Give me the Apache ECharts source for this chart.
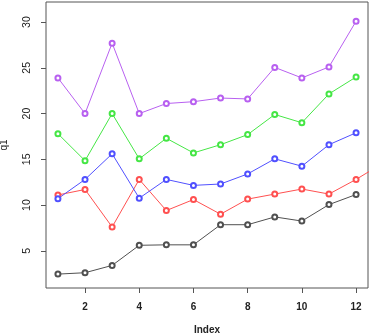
<!DOCTYPE html>
<html>
<head>
<meta charset="utf-8">
<script src="https://cdn.jsdelivr.net/npm/echarts@6/dist/echarts.min.js"></script>
<style>
  html, body { margin: 0; padding: 0; background: #fff; }
  #chart { width: 373px; height: 336px; }
</style>
</head>
<body>
<div id="chart"></div>
<script>
var xTicks = [2, 4, 6, 8, 10, 12];
var yTicks = [5, 10, 15, 20, 25, 30];
var black = [2.45, 2.6, 3.4, 5.6, 5.65, 5.65, 7.85, 7.85, 8.7, 8.25, 10.05, 11.15];
var red = [11.1, 11.7, 7.6, 12.8, 9.4, 10.6, 9.0, 10.65, 11.2, 11.75, 11.2, 12.8, 14.6];
var blue = [10.7, 12.8, 15.6, 10.75, 12.8, 12.15, 12.3, 13.4, 15.05, 14.25, 16.6, 17.9];
var green = [17.8, 14.85, 20.0, 15.05, 17.3, 15.7, 16.6, 17.7, 19.9, 19.0, 22.15, 24.0];
var purple = [23.9, 20.0, 27.7, 20.0, 21.1, 21.3, 21.7, 21.6, 25.05, 23.9, 25.1, 30.1];

var lines = [
  { values: black, color: '#505050' },
  { values: red, color: '#ff5050' },
  { values: blue, color: '#5050ff' },
  { values: green, color: '#45e645' },
  { values: purple, color: '#b860f0' }
];

function pairs(arr) {
  return arr.map(function (v, i) { return [i + 1, v]; });
}

var font = 'Liberation Sans, Arial, sans-serif';

var option = {
  animation: false,
  grid: {
    left: 46,
    right: 5,
    top: 2,
    bottom: 48,
    outerBoundsMode: 'none',
    show: true,
    borderColor: '#555',
    borderWidth: 1
  },
  xAxis: {
    type: 'value',
    min: 0.56,
    max: 12.44,
    name: 'Index',
    nameLocation: 'middle',
    nameGap: 37,
    nameTextStyle: { fontFamily: font, fontSize: 10, fontWeight: 'bold', color: '#222' },
    axisLine: { show: false },
    splitLine: { show: false },
    axisTick: { show: true, length: 5, lineStyle: { color: '#555' }, customValues: xTicks },
    axisLabel: { fontFamily: font, fontSize: 10, fontWeight: 'bold', color: '#222', margin: 14, customValues: xTicks }
  },
  yAxis: {
    type: 'value',
    min: 0.93,
    max: 32.2,
    name: 'q1',
    nameLocation: 'middle',
    nameGap: 37,
    nameRotate: 90,
    nameTextStyle: { fontFamily: font, fontSize: 10, color: '#222' },
    axisLine: { show: false },
    splitLine: { show: false },
    axisTick: { show: true, length: 5, lineStyle: { color: '#555' }, customValues: yTicks },
    axisLabel: { fontFamily: font, fontSize: 10.5, color: '#222', rotate: 90, margin: 13, customValues: yTicks }
  },
  series: lines.map(function (l) {
    return {
      type: 'line',
      data: pairs(l.values),
      clip: true,
      symbol: 'emptyCircle',
      symbolSize: 5,
      lineStyle: { color: l.color, width: 1 },
      itemStyle: { color: l.color, borderColor: l.color, borderWidth: 1 }
    };
  })
};

var myChart = echarts.init(document.getElementById('chart'));
myChart.setOption(option);
window.addEventListener('resize', function () {
  myChart.resize();
});
</script>
</body>
</html>
